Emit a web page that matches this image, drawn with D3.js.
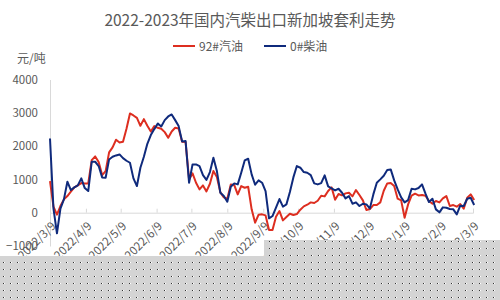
<!DOCTYPE html>
<html lang="zh">
  <head>
    <meta charset="UTF-8" />
    <title>2022-2023年国内汽柴出口新加坡套利走势</title>
    <style>
      body {
        margin: 0;
        background: #fff;
      }
      text {
        font-family: "Noto Sans CJK SC", "Noto Sans", sans-serif;
        fill: #595959;
      }
    </style>
  </head>
  <body>
    <svg id="chart" width="500" height="300"></svg>
  </body>
  <script src="https://cdn.jsdelivr.net/npm/d3@7"></script>
  <script>
    // 数据：自 2022/3/9 起每 3 天一个读数（元/吨）
    const startDay = "2022/3/9";
    const stepDays = 3;
    const gasoline92 = [
      950, 180, -60, 200, 400, 500, 630, 760, 820, 890, 880, 880, 1580, 1690, 1520, 1130,
      1250, 1810, 1960, 2190, 2110, 2130, 2520, 2980, 2920, 2850, 2610, 2810, 2610, 2440,
      2600, 2550, 2520, 2420, 2250, 2440, 2550, 2530, 2130, 2120, 1000, 1180, 900, 700,
      820, 640, 870, 1250, 1070, 610, 460, 420, 850, 830, 550, 800, 750, 780, 100, -300,
      -60, -50, -80, -520, -520, -120, 50, -230, -130, -30, -70, -40, 90, 190, 240, 310,
      290, 360, 510, 490, 650, 760, 390, 560, 520, 580, 600, 490, 680, 530, 370, 80,
      110, 230, 230, 310, 660, 880, 890, 800, 420, 370, -150, 250, 510, 570, 520, 530,
      510, 350, 270, 350, 310, 430, 500, 200, 230, 180, 260, 120, 450, 550, 380
    ];
    const diesel0 = [
      2230, 120, -620, 120, 400, 930, 680, 760, 820, 1030, 740, 650, 1530, 1530, 1400, 1060,
      1050, 1600, 1680, 1720, 1750, 1640, 1560, 1500, 1030, 800, 1350, 1680, 2070, 2330,
      2510, 2680, 2590, 2780, 2890, 2950, 2780, 2600, 2140, 2150, 900, 1450, 1450, 1400,
      1130, 985, 1220, 1650, 1250, 600, 500, 330, 780, 880, 850, 1200, 1570, 1620, 1150, 840,
      970, 900, 650, -170, -100, 150, 410, 180, 250, 620, 1060, 1400, 1350, 1220, 1200, 1130,
      880, 850, 890, 1120, 790, 730, 670, 720, 600, 430, 500, 270, 310, 200, 270, 250,
      130, 550, 900, 1000, 1110, 1280, 1300, 970, 700, 460, 310, 380, 720, 700, 740, 850,
      570, 320, 420, 100, 10, 160, 150, 110, 100, -50, 210, 200, 420, 450, 230
    ];
    const seriesNames = ["92#汽油", "0#柴油"];
    const seriesColors = ["#dd2e20", "#0f2a7c"];
    const xTickLabels = [
      "2022/3/9", "2022/4/9", "2022/5/9", "2022/6/9", "2022/7/9", "2022/8/9", "2022/9/9",
      "2022/10/9", "2022/11/9", "2022/12/9", "2023/1/9", "2023/2/9", "2023/3/9"
    ];
    const yTicks = [-1000, 0, 1000, 2000, 3000, 4000];

    const parse = d3.timeParse("%Y/%-m/%-d");
    const start = parse(startDay);
    const dates = d3.range(diesel0.length).map((i) => d3.timeDay.offset(start, i * stepDays));
    const series = [gasoline92, diesel0];

    const svg = d3.select("#chart");

    let x = d3
      .scaleTime()
      .domain([parse(xTickLabels[0]), parse(xTickLabels[xTickLabels.length - 1])])
      .range([50, 473]);
    let y = d3.scaleLinear().domain([-1000, 4000]).range([246, 79.5]);

    // 标题
    svg
      .append("text")
      .attr("x", 250)
      .attr("y", 26)
      .attr("text-anchor", "middle")
      .style("font-size", "15.5px")
      .text("2022-2023年国内汽柴出口新加坡套利走势");

    // 图例
    let legend = svg
      .selectAll(".legend")
      .data(seriesNames)
      .enter()
      .append("g")
      .attr("class", "legend")
      .attr("transform", (d, i) => `translate(${i === 0 ? 173 : 264},46)`);
    legend
      .append("line")
      .attr("x1", 0)
      .attr("x2", 22)
      .attr("stroke", (d, i) => seriesColors[i])
      .attr("stroke-width", 2);
    legend
      .append("text")
      .attr("x", 26)
      .attr("y", 4.5)
      .style("font-size", "12px")
      .text((d) => d);

    svg
      .append("text")
      .attr("x", 17)
      .attr("y", 63)
      .style("font-size", "12px")
      .text("元/吨");

    // y 轴
    let yAxis = d3
      .axisLeft(y)
      .tickValues(yTicks)
      .tickSize(0)
      .tickPadding(12)
      .tickFormat(d3.format("d"));
    let yg = svg.append("g").attr("transform", "translate(50,0)").call(yAxis);
    yg.select(".domain").attr("stroke", "#d9d9d9");
    yg.selectAll("text")
      .style("font-size", "11.5px")
      .style("font-family", '"Noto Sans CJK SC", sans-serif')
      .attr("fill", "#595959");

    // x 轴（位于 0 处）
    let xAxis = d3
      .axisBottom(x)
      .tickValues(xTickLabels.map(parse))
      .tickSize(-4)
      .tickFormat(d3.timeFormat("%Y/%-m/%-d"));
    let xg = svg.append("g").attr("transform", `translate(0,${y(0)})`).call(xAxis);
    xg.select(".domain").attr("stroke", "#d9d9d9");
    xg.selectAll(".tick line").attr("stroke", "#d9d9d9");
    xg.selectAll("text")
      .style("font-size", "11.5px")
      .style("font-family", '"Noto Sans CJK SC", sans-serif')
      .attr("fill", "#595959")
      .attr("text-anchor", "end")
      .attr("dy", 0)
      .attr("y", 0)
      .attr("transform", "translate(6,14) rotate(-45)");

    // 折线
    let line = d3
      .line()
      .x((d, i) => x(dates[i]))
      .y((d) => y(d));
    svg
      .selectAll(".series")
      .data(series)
      .enter()
      .append("path")
      .attr("class", "series")
      .attr("d", line)
      .attr("fill", "none")
      .attr("stroke", (d, i) => seriesColors[i])
      .attr("stroke-width", 2)
      .attr("stroke-linejoin", "round");

    // 底部灰色遮挡区域
    let defs = svg.append("defs");
    let pat = defs
      .append("pattern")
      .attr("id", "dots")
      .attr("width", 7)
      .attr("height", 7)
      .attr("patternUnits", "userSpaceOnUse");
    pat.append("rect").attr("width", 7).attr("height", 7).attr("fill", "#d4d4d4");
    pat.append("rect").attr("x", 3).attr("y", 3).attr("width", 1).attr("height", 1).attr("fill", "#333");
    pat.append("rect").attr("x", 4).attr("y", 3).attr("width", 1).attr("height", 1).attr("fill", "#fff");
    svg.append("path")
      .attr("d", "M0,256H264V240H500V300H0Z")
      .attr("fill", "url(#dots)");
  </script>
</html>
